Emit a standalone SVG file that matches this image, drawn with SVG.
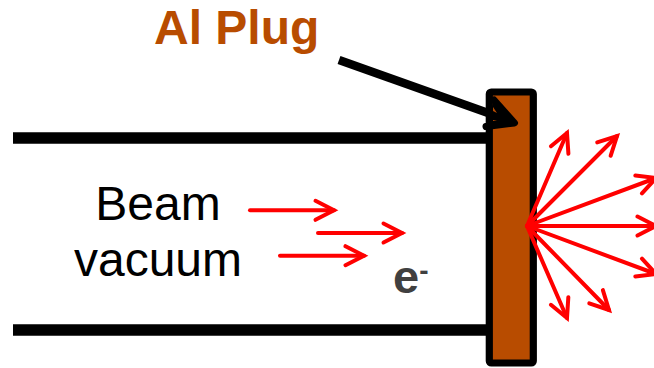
<svg xmlns="http://www.w3.org/2000/svg" width="654" height="368" viewBox="0 0 654 368">
<style>
.tube{stroke:#000;stroke-width:11.5;fill:none}
.ray{stroke:#f00;stroke-width:4;fill:none;stroke-linecap:round;marker-end:url(#chev)}
.lbl{font-family:"Liberation Sans",Arial,sans-serif}
</style>
<defs>
<marker id="chev" markerUnits="userSpaceOnUse" viewBox="-22 -12 24 24" refX="0" refY="0" markerWidth="24" markerHeight="24" orient="auto" overflow="visible">
<path d="M-18.500,-9.500 L0,0 L-18.500,9.500" fill="none" stroke="#f00" stroke-width="4" stroke-linecap="round" stroke-linejoin="miter"/>
</marker>
</defs>
<g id="connectors">
<line class="tube" x1="13" y1="138" x2="490" y2="138"/>
<line class="tube" x1="13" y1="330" x2="490" y2="330"/>
</g>
<g id="plug">
<rect x="489.3" y="92" width="44" height="271" rx="2" fill="#b84c00" stroke="#000" stroke-width="7.2" stroke-linejoin="round"/>
</g>
<g id="plug-pointer">
<line x1="339" y1="60" x2="505" y2="119" stroke="#000" stroke-width="8.500"/>
<path d="M494,100 L514.500,123 L486,126.500" fill="none" stroke="#000" stroke-width="7" stroke-linejoin="round" stroke-linecap="round"/>
<path d="M494,100 L514.500,123 L486,126.500 Z" fill="#000"/>
<path d="M493,107 L497,113 L493,111 Z M493,120 L497,120 L493,121 Z" fill="#b84c00"/>
</g>
<g id="rays">
<line class="ray" x1="527" y1="226" x2="567" y2="133"/>
<line class="ray" x1="527" y1="226" x2="617" y2="136"/>
<line class="ray" x1="527" y1="226" x2="656" y2="178"/>
<line class="ray" x1="527" y1="226" x2="656" y2="226"/>
<line class="ray" x1="527" y1="226" x2="656" y2="274"/>
<line class="ray" x1="527" y1="226" x2="609" y2="310"/>
<line class="ray" x1="527" y1="226" x2="567" y2="318"/>
</g>
<g id="beam-arrows">
<line class="ray" x1="250" y1="210.300" x2="334" y2="210.300"/>
<line class="ray" x1="318" y1="233" x2="402" y2="233"/>
<line class="ray" x1="280" y1="255.700" x2="364" y2="255.700"/>
</g>
<g id="al-plug-label"><text class="lbl" x="154" y="44" font-size="48" font-weight="700" fill="#b84c00">Al Plug</text></g>
<g id="beam-label">
<text class="lbl" x="158" y="220" font-size="48" fill="#000" text-anchor="middle">Beam</text>
<text class="lbl" x="158" y="276" font-size="48" fill="#000" text-anchor="middle">vacuum</text>
</g>
<g id="electron-label"><text class="lbl" x="393" y="293" font-size="47" font-weight="700" fill="#404040">e<tspan font-size="28" dy="-13">-</tspan></text></g>
</svg>
